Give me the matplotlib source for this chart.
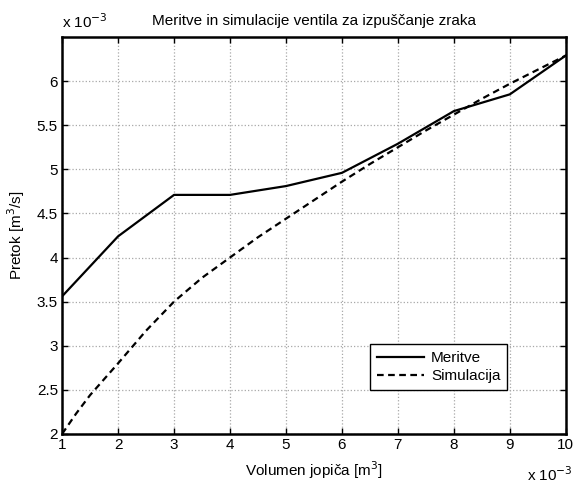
import matplotlib.pyplot as plt

plt.rcParams['font.family'] = ['Liberation Sans', 'DejaVu Sans']

# volumen jopica (x 10^-3 m^3)
volumen = [1, 2, 3, 4, 5, 6, 7, 8, 9, 10]
# meritve pretoka (x 10^-3 m^3/s)
meritve = [3.56, 4.24, 4.71, 4.71, 4.81, 4.96, 5.29, 5.66, 5.85, 6.29]

# simulacija - gostejse tocke
vol_sim = [1, 1.25, 1.5, 1.75, 2, 2.5, 3, 3.5, 4, 4.5, 5, 5.5, 6, 6.5, 7, 7.5,
           8, 8.5, 9, 9.5, 10]
simulacija = [2.0, 2.23, 2.44, 2.62, 2.80, 3.17, 3.50, 3.77, 4.0, 4.23, 4.44,
              4.65, 4.86, 5.06, 5.25, 5.44, 5.62, 5.80, 5.97, 6.13, 6.29]

xticks = [1, 2, 3, 4, 5, 6, 7, 8, 9, 10]
yticks = [2, 2.5, 3, 3.5, 4, 4.5, 5, 5.5, 6]

fs = 11

fig = plt.figure(figsize=(5.75, 4.87), dpi=100)
ax = fig.add_axes([0.108, 0.109, 0.876, 0.815])

ax.plot(volumen, meritve, 'k-', lw=1.6, label='Meritve')
ax.plot(vol_sim, simulacija, 'k--', lw=1.6, dashes=(3, 2), label='Simulacija')

ax.set_xlim(1, 10)
ax.set_ylim(2, 6.5)
ax.set_xticks(xticks)
ax.set_yticks(yticks)
ax.set_xticklabels([str(t) for t in xticks])
ax.set_yticklabels([('%g' % t) for t in yticks])
ax.tick_params(direction='in', top=True, right=True, length=4, width=1,
               labelsize=fs, pad=3)
ax.grid(True, color='#a8a8a8', linestyle=':', linewidth=0.9)
for s in ax.spines.values():
    s.set_linewidth(1.8)

ax.set_title('Meritve in simulacije ventila za izpuščanje zraka', fontsize=fs, pad=9)
ax.set_xlabel('Volumen jopiča [m$^3$]', fontsize=fs, labelpad=5)
ax.set_ylabel('Pretok [m$^3$/s]', fontsize=fs, labelpad=7)

# MATLAB-ov faktor skale
ax.text(0.0, 1.015, 'x 10$^{-3}$', transform=ax.transAxes, fontsize=fs,
        ha='left', va='bottom')
ax.text(0.923, -0.078, 'x 10$^{-3}$', transform=ax.transAxes, fontsize=fs,
        ha='left', va='top')

leg = ax.legend(loc='lower left', bbox_to_anchor=(0.611, 0.111), fontsize=fs,
                fancybox=False, framealpha=1, edgecolor='k', handlelength=3.1,
                borderpad=0.45, labelspacing=0.25, handletextpad=0.45,
                borderaxespad=0)
leg.get_frame().set_linewidth(1.0)

fig.savefig('out.png', dpi=100)
